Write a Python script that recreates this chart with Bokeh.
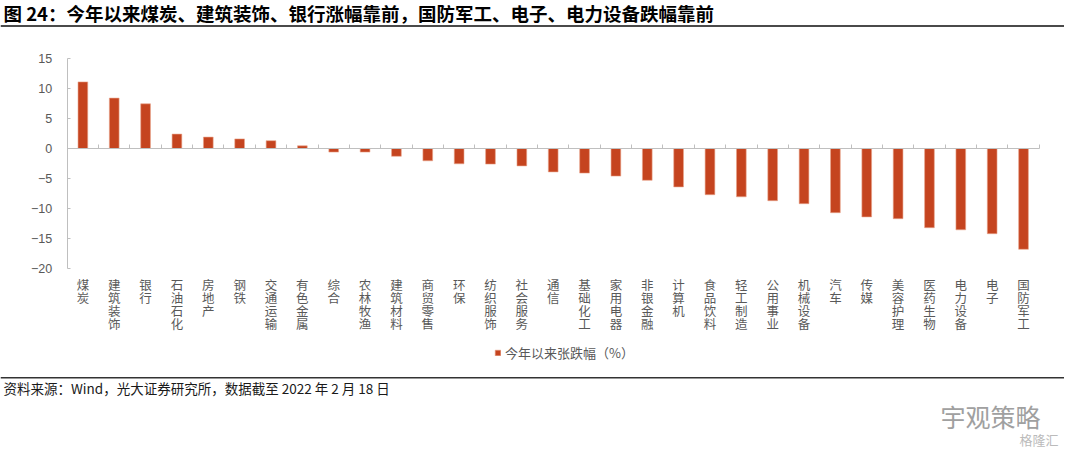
from bokeh.plotting import figure
from bokeh.models import (LinearAxis, FixedTicker, Range1d, Label, BoxAnnotation,
                          Legend, LegendItem, ColumnDataSource)
from bokeh.embed import file_html
from bokeh.resources import INLINE

# ---------------- data ----------------
categories = ["煤炭", "建筑装饰", "银行", "石油石化", "房地产", "钢铁", "交通运输", "有色金属",
              "综合", "农林牧渔", "建筑材料", "商贸零售", "环保", "纺织服饰", "社会服务", "通信",
              "基础化工", "家用电器", "非银金融", "计算机", "食品饮料", "轻工制造", "公用事业",
              "机械设备", "汽车", "传媒", "美容护理", "医药生物", "电力设备", "电子", "国防军工"]
values = [11.1, 8.4, 7.45, 2.4, 1.9, 1.6, 1.3, 0.45,
          -0.6, -0.6, -1.3, -2.05, -2.55, -2.6, -2.9, -3.9,
          -4.1, -4.6, -5.3, -6.4, -7.7, -8.05, -8.7,
          -9.2, -10.7, -11.4, -11.7, -13.2, -13.55, -14.2, -16.8]
y_ticks = [-20, -15, -10, -5, 0, 5, 10, 15]
series_name = "今年以来张跌幅（%）"
title_text = "图 24：今年以来煤炭、建筑装饰、银行涨幅靠前，国防军工、电子、电力设备跌幅靠前"
source_text = "资料来源：Wind，光大证券研究所，数据截至 2022 年 2 月 18 日"
watermark_text = "宇观策略"
logo_text = "格隆汇"

# ---------------- layout (pixels) ----------------
W, H = 1064, 449
PL, PR, PT, PB = 66.7, 1038.7, 58.0, 268.0   # plot area edges
n = len(categories)
CJK = "Noto Sans CJK SC"
GRAY = "#595959"
AXC = "#BFBFBF"

u = (PR - PL) / n
v = (PB - PT) / (y_ticks[-1] - y_ticks[0])
x_range = Range1d(-0.5 - PL / u, n - 0.5 + (W - PR) / u)
y_range = Range1d(y_ticks[0] - (H - PB) / v, y_ticks[-1] + PT / v)

p = figure(width=W, height=H, output_backend="svg", toolbar_location=None,
           x_range=x_range, y_range=y_range, x_axis_location=None, y_axis_location=None,
           min_border=0, min_border_left=0, min_border_right=0,
           min_border_top=0, min_border_bottom=0)
p.outline_line_color = None
p.xgrid.visible = False
p.ygrid.visible = False
p.background_fill_color = "white"
p.border_fill_color = "white"

yax = LinearAxis(fixed_location=-0.5, bounds=(y_ticks[0], y_ticks[-1]),
                 ticker=FixedTicker(ticks=y_ticks), major_tick_in=3, major_tick_out=0,
                 minor_tick_line_color=None, axis_line_color=AXC, major_tick_line_color=AXC,
                 major_label_text_color=GRAY, major_label_text_font_size="12.5px",
                 major_label_text_font="Liberation Sans", major_label_standoff=15)
p.add_layout(yax, "left")

cax = LinearAxis(fixed_location=y_ticks[0], ticker=FixedTicker(ticks=list(range(n))),
                 major_label_overrides={i: "\n".join(c) for i, c in enumerate(categories)},
                 axis_line_color=None, major_tick_line_color=None, minor_tick_line_color=None,
                 major_tick_in=0, major_tick_out=0,
                 major_label_standoff=6, major_label_text_font=CJK,
                 major_label_text_font_size="12.5px", major_label_text_color=GRAY,
                 major_label_text_line_height=0.7)
p.add_layout(cax, "below")

zax = LinearAxis(fixed_location=0, bounds=(-0.5, n - 0.5),
                 ticker=FixedTicker(ticks=[i - 0.5 for i in range(n + 1)]),
                 major_tick_in=4, major_tick_out=0, minor_tick_line_color=None,
                 axis_line_color=AXC, major_tick_line_color=AXC,
                 major_label_text_alpha=0, major_label_text_font_size="1px",
                 major_label_standoff=0)
p.add_layout(zax, "below")

src = ColumnDataSource(dict(x=list(range(n)), top=values))
r = p.vbar(x="x", top="top", bottom=0, width=0.31, source=src,
           fill_color="#C5441F", line_color="#E9A48C", line_width=0.6)

leg = Legend(items=[LegendItem(label=series_name, renderers=[r])], location=(494, H - 362),
             orientation="horizontal", padding=0, margin=0, border_line_color=None,
             background_fill_alpha=0, glyph_width=7, glyph_height=7, label_height=15,
             label_standoff=4, label_text_font_size="13px", label_text_color=GRAY,
             label_text_font=CJK)
p.add_layout(leg)

def txt(x, y, text, size, color, align="left", bold=False):
    p.add_layout(Label(x=x, y=H - y, x_units="screen", y_units="screen", text=text,
                       text_align=align, text_baseline="middle", text_font=CJK,
                       text_font_style="bold" if bold else "normal",
                       text_font_size=size, text_color=color))

def hline(y0, y1, color):
    p.add_layout(BoxAnnotation(left=0, right=W, top=H - y0, bottom=H - y1,
                               left_units="screen", right_units="screen", top_units="screen",
                               bottom_units="screen", fill_color=color, fill_alpha=1,
                               line_color=None))

txt(3, 12, title_text, "18.5px", "#000000", bold=True)
hline(24.5, 26.5, "#4a4a4a")
hline(376.5, 378, "#333333")
txt(3, 387, source_text, "13.5px", "#1a1a1a")
txt(940, 415, watermark_text, "25px", "#A0A0A0")
txt(1058, 439, logo_text, "13px", "#BBBBBB", align="right")

open("out.html", "w").write(file_html(p, INLINE))
